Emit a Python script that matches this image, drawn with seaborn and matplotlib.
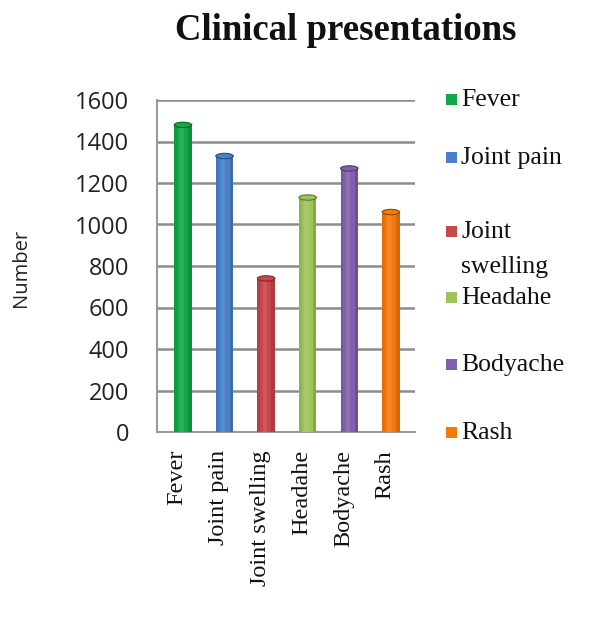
import matplotlib
matplotlib.use("Agg")
import matplotlib.pyplot as plt
import seaborn as sns
import pandas as pd
from matplotlib.patches import Rectangle, Ellipse
from matplotlib.transforms import ScaledTranslation
from matplotlib.colors import to_rgb

# Symptom counts
categories = ["Fever", "Joint pain", "Joint swelling", "Headahe", "Bodyache", "Rash"]
counts = [1480, 1330, 740, 1130, 1270, 1060]
legend_labels = ["Fever", "Joint pain", "Joint\nswelling", "Headahe", "Bodyache", "Rash"]
colors = ["#12a846", "#4a80c8", "#c8474a", "#9cc45a", "#8060aa", "#f57a0c"]
yticks = [0, 200, 400, 600, 800, 1000, 1200, 1400, 1600]

df = pd.DataFrame({"symptom": categories, "count": counts})

sns.set_theme(style="white")
serif = ["Liberation Serif", "DejaVu Serif"]
sans = ["Open Sans", "DejaVu Sans"]

W, H = 598, 617
fig = plt.figure(figsize=(W / 100, H / 100), dpi=100)
ax = fig.add_axes([157 / W, 1 - 432 / H, 258 / W, 332 / H])

sns.barplot(data=df, x="symptom", y="count", hue="symptom", palette=colors,
            saturation=1, width=0.42, legend=False, ax=ax, edgecolor="none", zorder=3)

# Cylinder-like shading and rounded caps on each bar
for patch, c in zip(list(ax.patches[:len(categories)]), colors):
    x0, w, h = patch.get_x(), patch.get_width(), patch.get_height()
    ax.bar(x0 + w * 0.8, h, width=w * 0.2, align="edge", color="black", alpha=0.14,
           zorder=4, linewidth=0)
    ax.bar(x0, h, width=w * 0.15, align="edge", color="black", alpha=0.08,
           zorder=4, linewidth=0)
    ax.bar(x0 + w * 0.3, h, width=w * 0.25, align="edge", color="white", alpha=0.10,
           zorder=4, linewidth=0)
    dark = tuple(v * 0.6 for v in to_rgb(c))
    ax.add_patch(Ellipse((x0 + w / 2, h), w, 26, facecolor=c, edgecolor=dark,
                         linewidth=0.8, zorder=5))

ax.set_ylim(0, 1600)
ax.set_xlim(-0.625, 5.58)
ax.set_yticks(yticks)
ax.set_yticklabels([str(t) for t in yticks], fontfamily=sans, fontsize=17, color="#222222")
ax.set_xticks(range(len(categories)))
ax.set_xticklabels(categories, rotation=90, fontfamily=serif, fontsize=17.5, color="#111111")
ax.tick_params(axis="y", length=0, pad=20)
ax.tick_params(axis="x", length=0, pad=13)
shift = ScaledTranslation(-6 / 100, 0, fig.dpi_scale_trans)
for lbl in ax.get_xticklabels():
    lbl.set_transform(lbl.get_transform() + shift)
ax.set_xlabel("")
ax.set_ylabel("")

ax.grid(axis="y", color="#8c8c8c", linewidth=1.8, zorder=0)
for side in ["top", "right"]:
    ax.spines[side].set_visible(False)
for side in ["left", "bottom"]:
    ax.spines[side].set_color("#9a9a9a")
    ax.spines[side].set_linewidth(1.5)

fig.text(21 / W, 1 - 268 / H, "Number", rotation=90, ha="center", va="center",
         fontfamily=sans, fontsize=14.5, color="#222222")

fig.text(346 / W, 1 - 30 / H, "Clinical presentations", ha="center", va="center",
         fontfamily=serif, fontweight="bold", fontsize=26.5, color="#111111")

# Legend drawn as colour squares with labels beside them
legend_y = [100, 158, 232, 298, 365, 433]
for c, lab, yp in zip(colors, legend_labels, legend_y):
    fig.patches.append(Rectangle((446 / W, 1 - (yp + 5) / H), 11 / W, 11 / H,
                                 transform=fig.transFigure, facecolor=c, edgecolor="none"))
    for i, line in enumerate(lab.split("\n")):
        fig.text(461 / W, 1 - (yp + 35 * i) / H, line, ha="left", va="center",
                 fontfamily=serif, fontsize=18.5, color="#111111")

fig.savefig("out.png", dpi=100, facecolor="white")
